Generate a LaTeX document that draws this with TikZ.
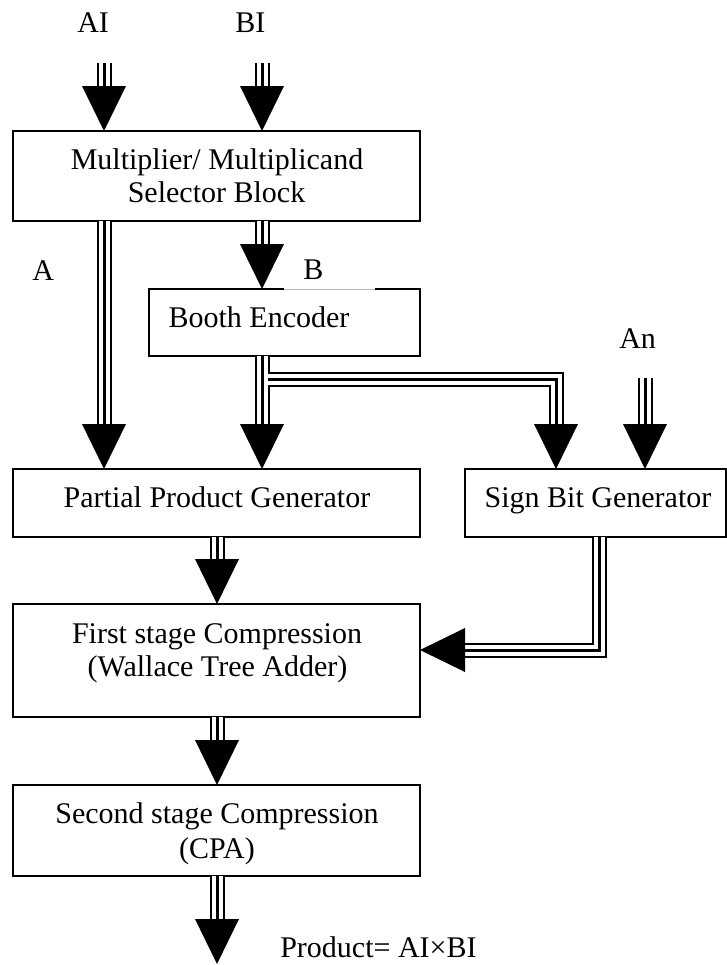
\documentclass[tikz,border=0pt]{standalone}
\usepackage{fontspec}
\setmainfont{Liberation Serif}
\usetikzlibrary{calc}
% filled triangular heads for the bus arrows (1 unit = 1px, y grows downwards)
\newcommand\downhead[1]{\fill (#1) -- ++(-22,-45) -- ++(44,0) -- cycle;}
\newcommand\lefthead[1]{\fill (#1) -- ++(45,-22) -- ++(0,44) -- cycle;}
\begin{document}
\begin{tikzpicture}[x=0.75pt, y=-0.75pt,
  boxshape/.style={inner sep=0pt, outer sep=0pt},
  box/.style={boxshape, draw, line width=1.1pt},
  lbl/.style={font=\fontsize{22.5}{27}\selectfont, inner sep=0pt, anchor=base},
  lblw/.style={lbl, anchor=base west},
  bus/.style={line width=11.25pt, line join=miter,
    postaction={draw=white, line width=8.25pt},
    postaction={draw=black, line width=2.25pt}},
]
\path[fill=white] (0,0) rectangle (727,965);
\useasboundingbox (0,0) rectangle (727,965);

% blocks
\node[box, minimum width=305.25pt, minimum height=67.5pt] (sel) at (216.5,176) {};
\node[boxshape, minimum width=203.25pt, minimum height=50.25pt] (booth) at (284.5,322.5) {};
\node[box, minimum width=305.25pt, minimum height=51pt] (pp) at (216.5,503) {};
\node[box, minimum width=195.75pt, minimum height=51pt] (sign) at (595.5,503) {};
\node[box, minimum width=305.25pt, minimum height=84.75pt] (first) at (216.5,660.5) {};
\node[box, minimum width=305.25pt, minimum height=68.25pt] (second) at (216.5,830.5) {};

% Booth encoder outline, with the faint segment of the top edge under "B"
\coordinate (gapL) at (284,0);
\coordinate (gapR) at (375,0);
\draw[line width=1.1pt] (booth.north -| gapL) -- (booth.north west) -- (booth.south west)
  -- (booth.south east) -- (booth.north east) -- (booth.north -| gapR);
\draw[gray!55, line width=0.5pt] (booth.north -| gapL) -- (booth.north -| gapR);

% block texts
\node[lbl] (selA) at (217,169) {Multiplier/ Multiplicand};
\node[lbl] (selB) at (216.5,202) {Selector Block};
\node[lbl] (boothT) at (259,327) {Booth Encoder};
\node[lbl] (ppT) at (217,507) {Partial Product Generator};
\node[lbl] (signT) at (598,507) {Sign Bit Generator};
\node[lbl] (firstA) at (217,643) {First stage Compression};
\node[lbl] (firstB) at (217.5,676) {(Wallace Tree Adder)};
\node[lbl] (secondA) at (217,823) {Second stage Compression};
\node[lbl] (secondB) at (217,858) {(CPA)};

% signal labels
\node[lblw] (ai) at (77,32) {AI};
\node[lblw] (bi) at (235,32) {BI};
\node[lblw] (a) at (32,280) {A};
\node[lblw] (b) at (303,279) {B};
\node[lblw] (an) at (619,348) {An};
\node[lblw] (prod) at (280,957) {Product= AI×BI};

% bus columns and free ends
\coordinate (aiTop) at (104,63);
\coordinate (biTop) at (262,63);
\coordinate (anTop) at (645,378);
\coordinate (colC) at (217,0);
\coordinate (colS) at (556,0);
\coordinate (colG) at (599,0);
\coordinate (rowG) at (0,650);
\coordinate (brS) at (268,379);
\coordinate (outTip) at (217,964);

% inputs to the selector block
\draw[bus] (aiTop) -- ($(sel.north -| aiTop)+(0,-44)$);
\downhead{sel.north -| aiTop}
\draw[bus] (biTop) -- ($(sel.north -| biTop)+(0,-44)$);
\downhead{sel.north -| biTop}

% selector -> Booth encoder (B) and selector -> partial products (A)
\draw[bus] (sel.south -| biTop) -- ($(booth.north -| biTop)+(0,-44)$);
\downhead{booth.north -| biTop}
\draw[bus] (sel.south -| aiTop) -- ($(pp.north -| aiTop)+(0,-44)$);
\downhead{pp.north -| aiTop}

% Booth encoder -> partial products, and branch to the sign bit generator
\draw[bus] (booth.south -| biTop) -- ($(pp.north -| biTop)+(0,-44)$);
\downhead{pp.north -| biTop}
\draw[bus] (brS) -- (brS -| colS) -- ($(sign.north -| colS)+(0,-44)$);
\downhead{sign.north -| colS}

% An -> sign bit generator
\draw[bus] (anTop) -- ($(sign.north -| anTop)+(0,-44)$);
\downhead{sign.north -| anTop}

% partial products -> first stage
\draw[bus] (pp.south -| colC) -- ($(first.north -| colC)+(0,-44)$);
\downhead{first.north -| colC}

% sign bits -> first stage
\draw[bus] (sign.south -| colG) -- (colG |- rowG) -- ($(first.east |- rowG)+(44,0)$);
\lefthead{first.east |- rowG}

% first stage -> second stage -> product
\draw[bus] (first.south -| colC) -- ($(second.north -| colC)+(0,-44)$);
\downhead{second.north -| colC}
\draw[bus] (second.south -| colC) -- ($(outTip)+(0,-44)$);
\downhead{outTip}
\end{tikzpicture}
\end{document}
